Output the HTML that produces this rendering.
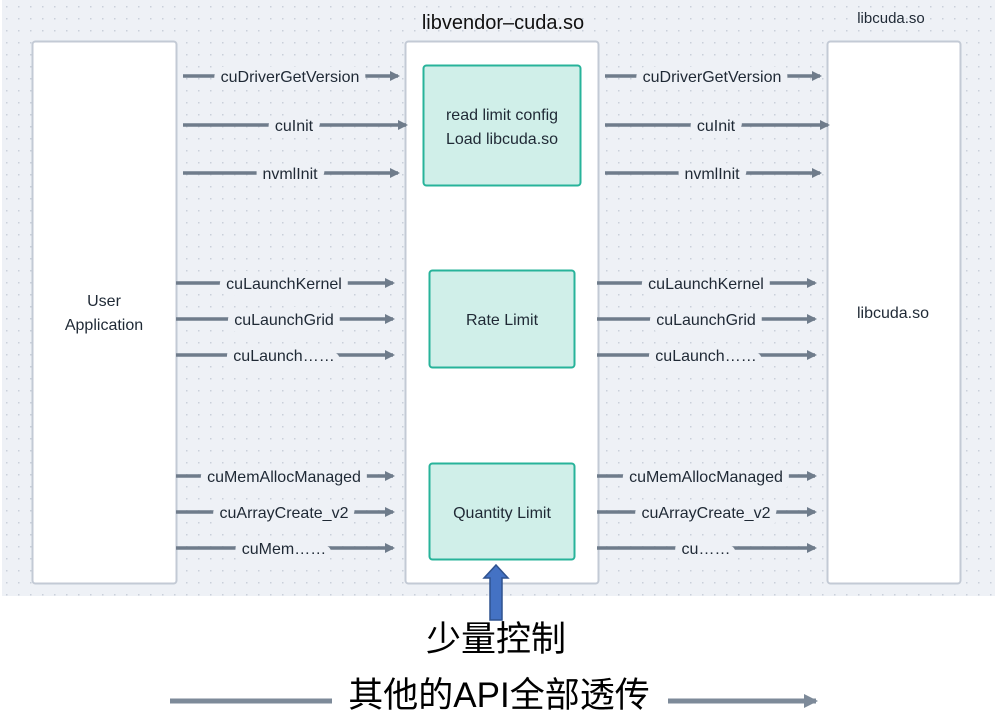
<!DOCTYPE html>
<html><head><meta charset="utf-8"><style>
html,body{margin:0;padding:0;background:#fff;width:997px;height:715px;overflow:hidden}
svg{display:block}
text{font-family:"Liberation Sans","Noto Sans CJK SC",sans-serif;fill:#1f2935}
</style></head><body>
<svg width="997" height="715" viewBox="0 0 997 715" xmlns="http://www.w3.org/2000/svg">
<defs>
<pattern id="dots" width="12" height="12" patternUnits="userSpaceOnUse" x="2" y="2">
<rect x="4" y="4" width="1.5" height="1.5" fill="#c9d0da"/>
</pattern>
<marker id="ah" markerWidth="10" markerHeight="10" refX="8" refY="5" orient="auto" markerUnits="userSpaceOnUse">
<path d="M0,0 L10,5 L0,10 z" fill="#6f7c8b"/>
</marker>
<marker id="ah2" markerWidth="14" markerHeight="14" refX="12" refY="7" orient="auto" markerUnits="userSpaceOnUse">
<path d="M0,0 L14,7 L0,14 z" fill="#7d8a99"/>
</marker>
</defs>
<rect x="2" y="0" width="993" height="596" fill="#eef1f6"/>
<rect x="2" y="0" width="993" height="596" fill="url(#dots)"/>

<text x="503" y="29" font-size="20" text-anchor="middle" style="fill:#111">libvendor–cuda.so</text>
<text x="891" y="23" font-size="15" text-anchor="middle">libcuda.so</text>

<rect x="32.5" y="41.5" width="144" height="542" rx="3" fill="#fff" stroke="#c3cad5" stroke-width="2"/>
<rect x="405.5" y="41.5" width="193" height="542" rx="3" fill="#fff" stroke="#c3cad5" stroke-width="2"/>
<rect x="827.5" y="41.5" width="133" height="542" rx="3" fill="#fff" stroke="#c3cad5" stroke-width="2"/>

<text x="104" y="306" font-size="16" text-anchor="middle">User</text>
<text x="104" y="330" font-size="16" text-anchor="middle">Application</text>
<text x="893" y="318" font-size="16" text-anchor="middle">libcuda.so</text>

<rect x="423.5" y="65.5" width="157" height="120" rx="3" fill="#d0efe9" stroke="#27b39a" stroke-width="2"/>
<text x="502" y="120" font-size="16" text-anchor="middle">read limit config</text>
<text x="502" y="144" font-size="16" text-anchor="middle">Load libcuda.so</text>
<rect x="429.5" y="270.5" width="145" height="97" rx="3" fill="#d0efe9" stroke="#27b39a" stroke-width="2"/>
<text x="502" y="325" font-size="16" text-anchor="middle">Rate Limit</text>
<rect x="429.5" y="463.5" width="145" height="96" rx="3" fill="#d0efe9" stroke="#27b39a" stroke-width="2"/>
<text x="502" y="518" font-size="16" text-anchor="middle">Quantity Limit</text>

<g stroke="#6f7c8b" stroke-width="3.5" fill="none" marker-end="url(#ah)">
<line x1="183" y1="76" x2="398" y2="76"/>
<line x1="183" y1="125" x2="406" y2="125"/>
<line x1="183" y1="173" x2="398" y2="173"/>
<line x1="605" y1="76" x2="820" y2="76"/>
<line x1="605" y1="125" x2="828" y2="125"/>
<line x1="605" y1="173" x2="820" y2="173"/>
<line x1="176" y1="283" x2="393" y2="283"/>
<line x1="176" y1="319" x2="393" y2="319"/>
<line x1="176" y1="355" x2="393" y2="355"/>
<line x1="597" y1="283" x2="815" y2="283"/>
<line x1="597" y1="319" x2="815" y2="319"/>
<line x1="597" y1="355" x2="815" y2="355"/>
<line x1="176" y1="476" x2="393" y2="476"/>
<line x1="176" y1="512" x2="393" y2="512"/>
<line x1="176" y1="548" x2="393" y2="548"/>
<line x1="597" y1="476" x2="815" y2="476"/>
<line x1="597" y1="512" x2="815" y2="512"/>
<line x1="597" y1="548" x2="815" y2="548"/>
</g>

<g font-size="16" text-anchor="middle" style="paint-order:stroke" stroke="#eef1f6" stroke-width="14" stroke-linejoin="round">
<text x="290" y="82">cuDriverGetVersion</text>
<text x="294" y="131">cuInit</text>
<text x="290" y="179">nvmlInit</text>
<text x="712" y="82">cuDriverGetVersion</text>
<text x="716" y="131">cuInit</text>
<text x="712" y="179">nvmlInit</text>
<text x="284" y="289">cuLaunchKernel</text>
<text x="284" y="325">cuLaunchGrid</text>
<text x="284" y="361">cuLaunch……</text>
<text x="706" y="289">cuLaunchKernel</text>
<text x="706" y="325">cuLaunchGrid</text>
<text x="706" y="361">cuLaunch……</text>
<text x="284" y="482">cuMemAllocManaged</text>
<text x="284" y="518">cuArrayCreate_v2</text>
<text x="284" y="554">cuMem……</text>
<text x="706" y="482">cuMemAllocManaged</text>
<text x="706" y="518">cuArrayCreate_v2</text>
<text x="706" y="554">cu……</text>
</g>

<path d="M496,565 L508,578 L502,578 L502,620 L490,620 L490,578 L484,578 Z" fill="#4472c4" stroke="#2f528f" stroke-width="1.5"/>

<text x="496" y="651" font-size="35" text-anchor="middle" style="fill:#000">少量控制</text>
<text x="499" y="707" font-size="35" text-anchor="middle" style="fill:#000">其他的API全部透传</text>
<line x1="170" y1="701" x2="332" y2="701" stroke="#7d8a99" stroke-width="5"/>
<line x1="668" y1="701" x2="816" y2="701" stroke="#7d8a99" stroke-width="5" marker-end="url(#ah2)"/>
</svg>
</body></html>
